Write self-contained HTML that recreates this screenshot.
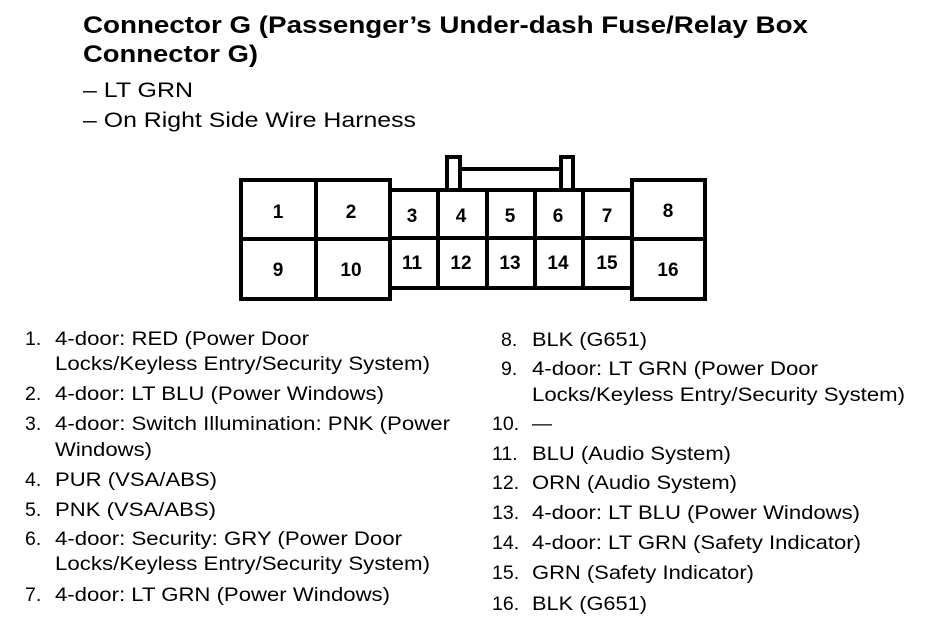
<!DOCTYPE html>
<html><head><meta charset="utf-8"><style>
html,body{margin:0;padding:0;background:#fff}
svg{display:block}
text{font-family:"Liberation Sans",Arial,sans-serif;fill:#000}
.t{font-weight:bold;font-size:24px}
.s{font-size:21px}
.l{font-size:19.5px}
.p{font-weight:bold;font-size:19px;text-anchor:middle}
</style></head><body>
<svg width="944" height="630" viewBox="0 0 944 630" xmlns="http://www.w3.org/2000/svg">
<text class="t" x="83" y="33" textLength="725" lengthAdjust="spacingAndGlyphs">Connector G (Passenger’s Under-dash Fuse/Relay Box</text>
<text class="t" x="83" y="62" textLength="175" lengthAdjust="spacingAndGlyphs">Connector G)</text>
<text class="s" x="83" y="97" textLength="110" lengthAdjust="spacingAndGlyphs">– LT GRN</text>
<text class="s" x="83" y="127" textLength="333" lengthAdjust="spacingAndGlyphs">– On Right Side Wire Harness</text>

<g fill="none" stroke="#000" stroke-width="4">
<rect x="447" y="157" width="13" height="34"/>
<rect x="561" y="157" width="12" height="34"/>
<line x1="460" y1="169" x2="561" y2="169"/>
<rect x="390" y="190" width="242" height="98" fill="#fff"/>
<line x1="390" y1="238" x2="632" y2="238"/>
<line x1="438" y1="190" x2="438" y2="288"/>
<line x1="487" y1="190" x2="487" y2="288"/>
<line x1="535" y1="190" x2="535" y2="288"/>
<line x1="583" y1="190" x2="583" y2="288"/>
<rect x="241" y="180" width="149" height="119" fill="#fff"/>
<line x1="241" y1="239" x2="390" y2="239"/>
<line x1="316" y1="180" x2="316" y2="299"/>
<rect x="632" y="180" width="73" height="119" fill="#fff"/>
<line x1="632" y1="239" x2="705" y2="239"/>
</g>
<g>
<text class="p" x="278" y="218">1</text>
<text class="p" x="351" y="218">2</text>
<text class="p" x="412" y="222">3</text>
<text class="p" x="461" y="222">4</text>
<text class="p" x="510" y="222">5</text>
<text class="p" x="558" y="222">6</text>
<text class="p" x="607" y="222">7</text>
<text class="p" x="668" y="217">8</text>
<text class="p" x="278" y="276">9</text>
<text class="p" x="351" y="276">10</text>
<text class="p" x="412" y="269">11</text>
<text class="p" x="461" y="269">12</text>
<text class="p" x="510" y="269">13</text>
<text class="p" x="558" y="269">14</text>
<text class="p" x="607" y="269">15</text>
<text class="p" x="668" y="276">16</text>
</g>

<g class="l">
<text class="l" x="25" y="345">1.</text>
<text class="l" x="55" y="345" textLength="254" lengthAdjust="spacingAndGlyphs">4-door: RED (Power Door</text>
<text class="l" x="55" y="370" textLength="375" lengthAdjust="spacingAndGlyphs">Locks/Keyless Entry/Security System)</text>
<text class="l" x="25" y="400">2.</text>
<text class="l" x="55" y="400" textLength="329" lengthAdjust="spacingAndGlyphs">4-door: LT BLU (Power Windows)</text>
<text class="l" x="25" y="430">3.</text>
<text class="l" x="55" y="430" textLength="395" lengthAdjust="spacingAndGlyphs">4-door: Switch Illumination: PNK (Power</text>
<text class="l" x="55" y="456" textLength="97" lengthAdjust="spacingAndGlyphs">Windows)</text>
<text class="l" x="25" y="486">4.</text>
<text class="l" x="55" y="486" textLength="162" lengthAdjust="spacingAndGlyphs">PUR (VSA/ABS)</text>
<text class="l" x="25" y="516">5.</text>
<text class="l" x="55" y="516" textLength="161" lengthAdjust="spacingAndGlyphs">PNK (VSA/ABS)</text>
<text class="l" x="25" y="545">6.</text>
<text class="l" x="55" y="545" textLength="347" lengthAdjust="spacingAndGlyphs">4-door: Security: GRY (Power Door</text>
<text class="l" x="55" y="570" textLength="375" lengthAdjust="spacingAndGlyphs">Locks/Keyless Entry/Security System)</text>
<text class="l" x="25" y="601">7.</text>
<text class="l" x="55" y="601" textLength="335" lengthAdjust="spacingAndGlyphs">4-door: LT GRN (Power Windows)</text>

<text class="l" x="501" y="346">8.</text>
<text class="l" x="532" y="346" textLength="115" lengthAdjust="spacingAndGlyphs">BLK (G651)</text>
<text class="l" x="501" y="375">9.</text>
<text class="l" x="532" y="375" textLength="286" lengthAdjust="spacingAndGlyphs">4-door: LT GRN (Power Door</text>
<text class="l" x="532" y="401" textLength="373" lengthAdjust="spacingAndGlyphs">Locks/Keyless Entry/Security System)</text>
<text class="l" x="492" y="430">10.</text>
<text class="l" x="532" y="430" textLength="20" lengthAdjust="spacingAndGlyphs">—</text>
<text class="l" x="492" y="460">11.</text>
<text class="l" x="532" y="460" textLength="199" lengthAdjust="spacingAndGlyphs">BLU (Audio System)</text>
<text class="l" x="492" y="489">12.</text>
<text class="l" x="532" y="489" textLength="205" lengthAdjust="spacingAndGlyphs">ORN (Audio System)</text>
<text class="l" x="492" y="519">13.</text>
<text class="l" x="532" y="519" textLength="328" lengthAdjust="spacingAndGlyphs">4-door: LT BLU (Power Windows)</text>
<text class="l" x="492" y="549">14.</text>
<text class="l" x="532" y="549" textLength="329" lengthAdjust="spacingAndGlyphs">4-door: LT GRN (Safety Indicator)</text>
<text class="l" x="492" y="579">15.</text>
<text class="l" x="532" y="579" textLength="222" lengthAdjust="spacingAndGlyphs">GRN (Safety Indicator)</text>
<text class="l" x="492" y="610">16.</text>
<text class="l" x="532" y="610" textLength="115" lengthAdjust="spacingAndGlyphs">BLK (G651)</text>
</g>
</svg>
</body></html>
